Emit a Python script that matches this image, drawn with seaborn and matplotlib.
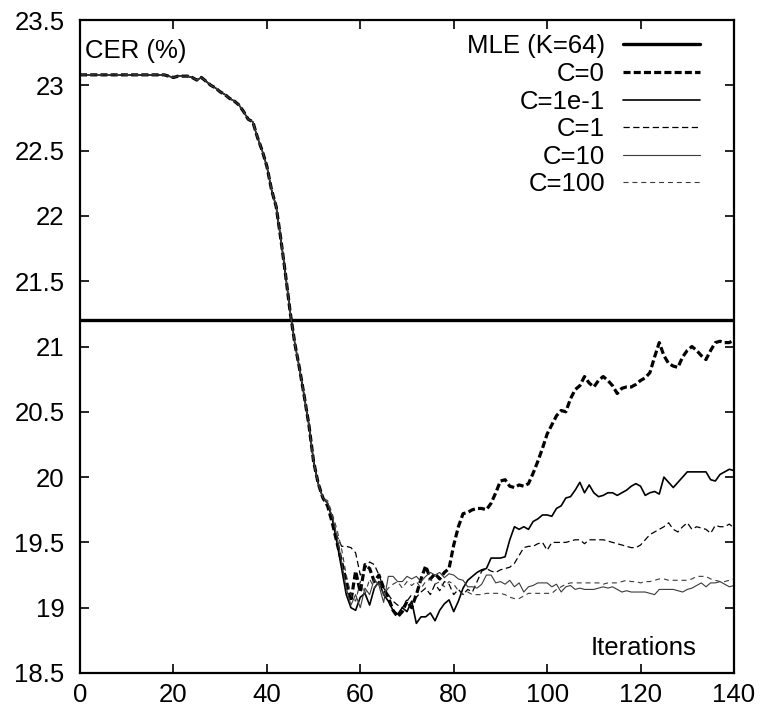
import numpy as np
import pandas as pd
import seaborn as sns
import matplotlib.pyplot as plt
from matplotlib.ticker import FuncFormatter

# shared part of the curves (iterations 0..52, all runs coincide)
shared_iter = np.arange(0, 53)
shared_cer = [23.08, 23.08, 23.08, 23.08, 23.08, 23.08, 23.08, 23.08, 23.08, 23.08,
              23.08, 23.08, 23.08, 23.08, 23.08, 23.08, 23.08, 23.08, 23.08, 23.07,
              23.06, 23.07, 23.07, 23.07, 23.06, 23.04, 23.06, 23.03, 23.00, 22.98,
              22.95, 22.93, 22.90, 22.88, 22.85, 22.80, 22.74, 22.72, 22.60, 22.50,
              22.38, 22.20, 22.07, 21.82, 21.55, 21.26, 21.02, 20.83, 20.62, 20.40,
              20.12, 19.95, 19.84]

# iterations 53..140, one list per regularisation constant
tail_iter = np.arange(53, 141)
cer_c0 = [19.78, 19.65, 19.50, 19.35, 19.20, 19.05, 19.28, 19.12, 19.33, 19.30,
          19.20, 19.25, 19.15, 19.08, 18.98, 18.93, 18.97, 19.05, 19.00, 19.10,
          19.22, 19.32, 19.22, 19.26, 19.22, 19.27, 19.30, 19.48, 19.62, 19.72,
          19.73, 19.75, 19.76, 19.76, 19.75, 19.80, 19.88, 19.97, 19.98, 19.93,
          19.92, 19.94, 19.93, 19.95, 20.03, 20.12, 20.22, 20.33, 20.40, 20.47,
          20.51, 20.50, 20.60, 20.67, 20.70, 20.77, 20.72, 20.69, 20.74, 20.77,
          20.74, 20.70, 20.64, 20.68, 20.69, 20.69, 20.71, 20.74, 20.76, 20.80,
          20.92, 21.03, 20.93, 20.87, 20.85, 20.84, 20.92, 20.97, 21.00, 20.97,
          20.93, 20.90, 20.97, 21.03, 21.04, 21.03, 21.03, 21.05]
cer_c01 = [19.80, 19.68, 19.50, 19.30, 19.10, 19.00, 18.98, 19.08, 19.11, 19.02,
           19.15, 19.20, 19.10, 19.05, 18.98, 18.95, 19.00, 18.97, 19.05, 18.88,
           18.93, 18.93, 18.96, 18.90, 18.98, 19.03, 19.06, 18.97, 19.05, 19.15,
           19.21, 19.24, 19.27, 19.29, 19.30, 19.38, 19.38, 19.38, 19.39, 19.52,
           19.62, 19.60, 19.62, 19.60, 19.66, 19.68, 19.71, 19.71, 19.70, 19.76,
           19.78, 19.84, 19.85, 19.90, 19.96, 19.88, 19.94, 19.88, 19.85, 19.86,
           19.88, 19.88, 19.86, 19.88, 19.90, 19.93, 19.95, 19.93, 19.86, 19.88,
           19.89, 19.87, 20.00, 19.96, 19.92, 19.96, 20.00, 20.04, 20.04, 20.04,
           20.04, 20.04, 19.98, 19.97, 20.02, 20.04, 20.06, 20.05]
cer_c1 = [19.80, 19.70, 19.55, 19.47, 19.47, 19.46, 19.42, 19.25, 19.30, 19.35,
          19.33, 19.25, 19.15, 19.10, 19.05, 19.02, 19.00, 19.05, 19.10, 19.08,
          19.12, 19.15, 19.10, 19.18, 19.13, 19.20, 19.18, 19.10, 19.14, 19.10,
          19.14, 19.12, 19.20, 19.28, 19.30, 19.28, 19.27, 19.29, 19.30, 19.31,
          19.34, 19.40, 19.46, 19.47, 19.47, 19.49, 19.50, 19.44, 19.50, 19.50,
          19.50, 19.50, 19.51, 19.52, 19.52, 19.49, 19.52, 19.52, 19.52, 19.52,
          19.51, 19.50, 19.49, 19.48, 19.47, 19.46, 19.46, 19.48, 19.52, 19.56,
          19.58, 19.60, 19.62, 19.65, 19.60, 19.58, 19.62, 19.65, 19.60, 19.62,
          19.61, 19.60, 19.57, 19.63, 19.62, 19.62, 19.64, 19.61]
cer_c10 = [19.80, 19.70, 19.55, 19.35, 19.15, 19.02, 19.10, 19.00, 19.15, 19.10,
           19.22, 19.17, 19.04, 19.24, 19.24, 19.20, 19.20, 19.24, 19.22, 19.24,
           19.20, 19.24, 19.27, 19.25, 19.27, 19.23, 19.26, 19.25, 19.22, 19.21,
           19.16, 19.16, 19.15, 19.18, 19.25, 19.25, 19.19, 19.20, 19.18, 19.21,
           19.16, 19.19, 19.12, 19.16, 19.17, 19.19, 19.19, 19.19, 19.16, 19.18,
           19.12, 19.16, 19.17, 19.14, 19.15, 19.14, 19.14, 19.14, 19.15, 19.16,
           19.15, 19.16, 19.14, 19.12, 19.13, 19.12, 19.12, 19.12, 19.12, 19.11,
           19.10, 19.14, 19.14, 19.14, 19.14, 19.13, 19.12, 19.14, 19.15, 19.17,
           19.19, 19.16, 19.19, 19.19, 19.20, 19.18, 19.16, 19.17]
cer_c100 = [19.82, 19.72, 19.60, 19.45, 19.25, 19.10, 19.05, 19.20, 19.10, 19.22,
            19.15, 19.20, 19.10, 19.15, 19.18, 19.20, 19.15, 19.20, 19.17, 19.20,
            19.15, 19.20, 19.22, 19.18, 19.20, 19.16, 19.20, 19.18, 19.13, 19.10,
            19.12, 19.10, 19.10, 19.10, 19.11, 19.11, 19.11, 19.11, 19.10, 19.08,
            19.07, 19.07, 19.09, 19.11, 19.11, 19.11, 19.11, 19.11, 19.11, 19.14,
            19.16, 19.18, 19.19, 19.19, 19.19, 19.19, 19.19, 19.19, 19.19, 19.18,
            19.19, 19.19, 19.19, 19.20, 19.21, 19.20, 19.20, 19.19, 19.20, 19.20,
            19.21, 19.22, 19.22, 19.21, 19.21, 19.21, 19.21, 19.21, 19.22, 19.24,
            19.24, 19.24, 19.22, 19.21, 19.20, 19.20, 19.21, 19.22]

mle_cer = 21.2
labels = ["C=0", "C=1e-1", "C=1", "C=10", "C=100"]
tails = [cer_c0, cer_c01, cer_c1, cer_c10, cer_c100]

# line look for each run (gnuplot style, black)
styles = {
    "C=0":    dict(color="black", lw=2.3, ls=(0, (2.2, 1.0))),
    "C=1e-1": dict(color="black", lw=1.2, ls="-"),
    "C=1":    dict(color="black", lw=0.9, ls=(0, (5.0, 2.8))),
    "C=10":   dict(color="#3a3a3a", lw=0.8, ls="-"),
    "C=100":  dict(color="#3a3a3a", lw=0.8, ls=(0, (4.5, 3.5))),
}

sns.set_style("ticks")
plt.rcParams["font.family"] = ["Liberation Sans", "DejaVu Sans"]
plt.rcParams["text.color"] = "black"

fs = 18.5

fig = plt.figure(figsize=(7.65, 7.13), dpi=100)
ax = fig.add_axes([80 / 765, 1 - 673 / 713, 654 / 765, 653 / 713])

ax.axhline(mle_cer, color="black", lw=2.4, label="MLE (K=64)")

for name, tail in zip(labels, tails):
    df = pd.DataFrame({
        "iter": np.concatenate([shared_iter, tail_iter]),
        "cer": np.concatenate([shared_cer, tail]),
    })
    st = styles[name]
    sns.lineplot(data=df, x="iter", y="cer", ax=ax, color=st["color"],
                 lw=st["lw"], linestyle=st["ls"], label=name)

ax.set_xlim(0, 140)
ax.set_ylim(18.5, 23.5)
ax.set_xticks(np.arange(0, 141, 20))
ax.set_yticks(np.arange(18.5, 23.51, 0.5))
ax.yaxis.set_major_formatter(FuncFormatter(lambda v, p: f"{v:g}"))
ax.set_xlabel("")
ax.set_ylabel("")

for s in ax.spines.values():
    s.set_visible(True)
    s.set_linewidth(1.6)
    s.set_color("black")
ax.tick_params(direction="in", length=6.5, width=1.2, top=True, right=True,
               labelsize=fs, colors="black")
ax.tick_params(axis="y", pad=11)
ax.tick_params(axis="x", pad=7)

ax.text(0.008, 0.953, "CER (%)", transform=ax.transAxes, fontsize=fs,
        ha="left", va="center")
ax.text(0.943, 0.038, "Iterations", transform=ax.transAxes, fontsize=fs,
        ha="right", va="center")

ax.legend(loc="upper right", bbox_to_anchor=(0.948, 0.978), frameon=False,
          markerfirst=False, fontsize=fs, handlelength=3.0, handletextpad=0.7,
          labelspacing=0.14, borderpad=0, borderaxespad=0)

plt.savefig("out.png", dpi=100)
